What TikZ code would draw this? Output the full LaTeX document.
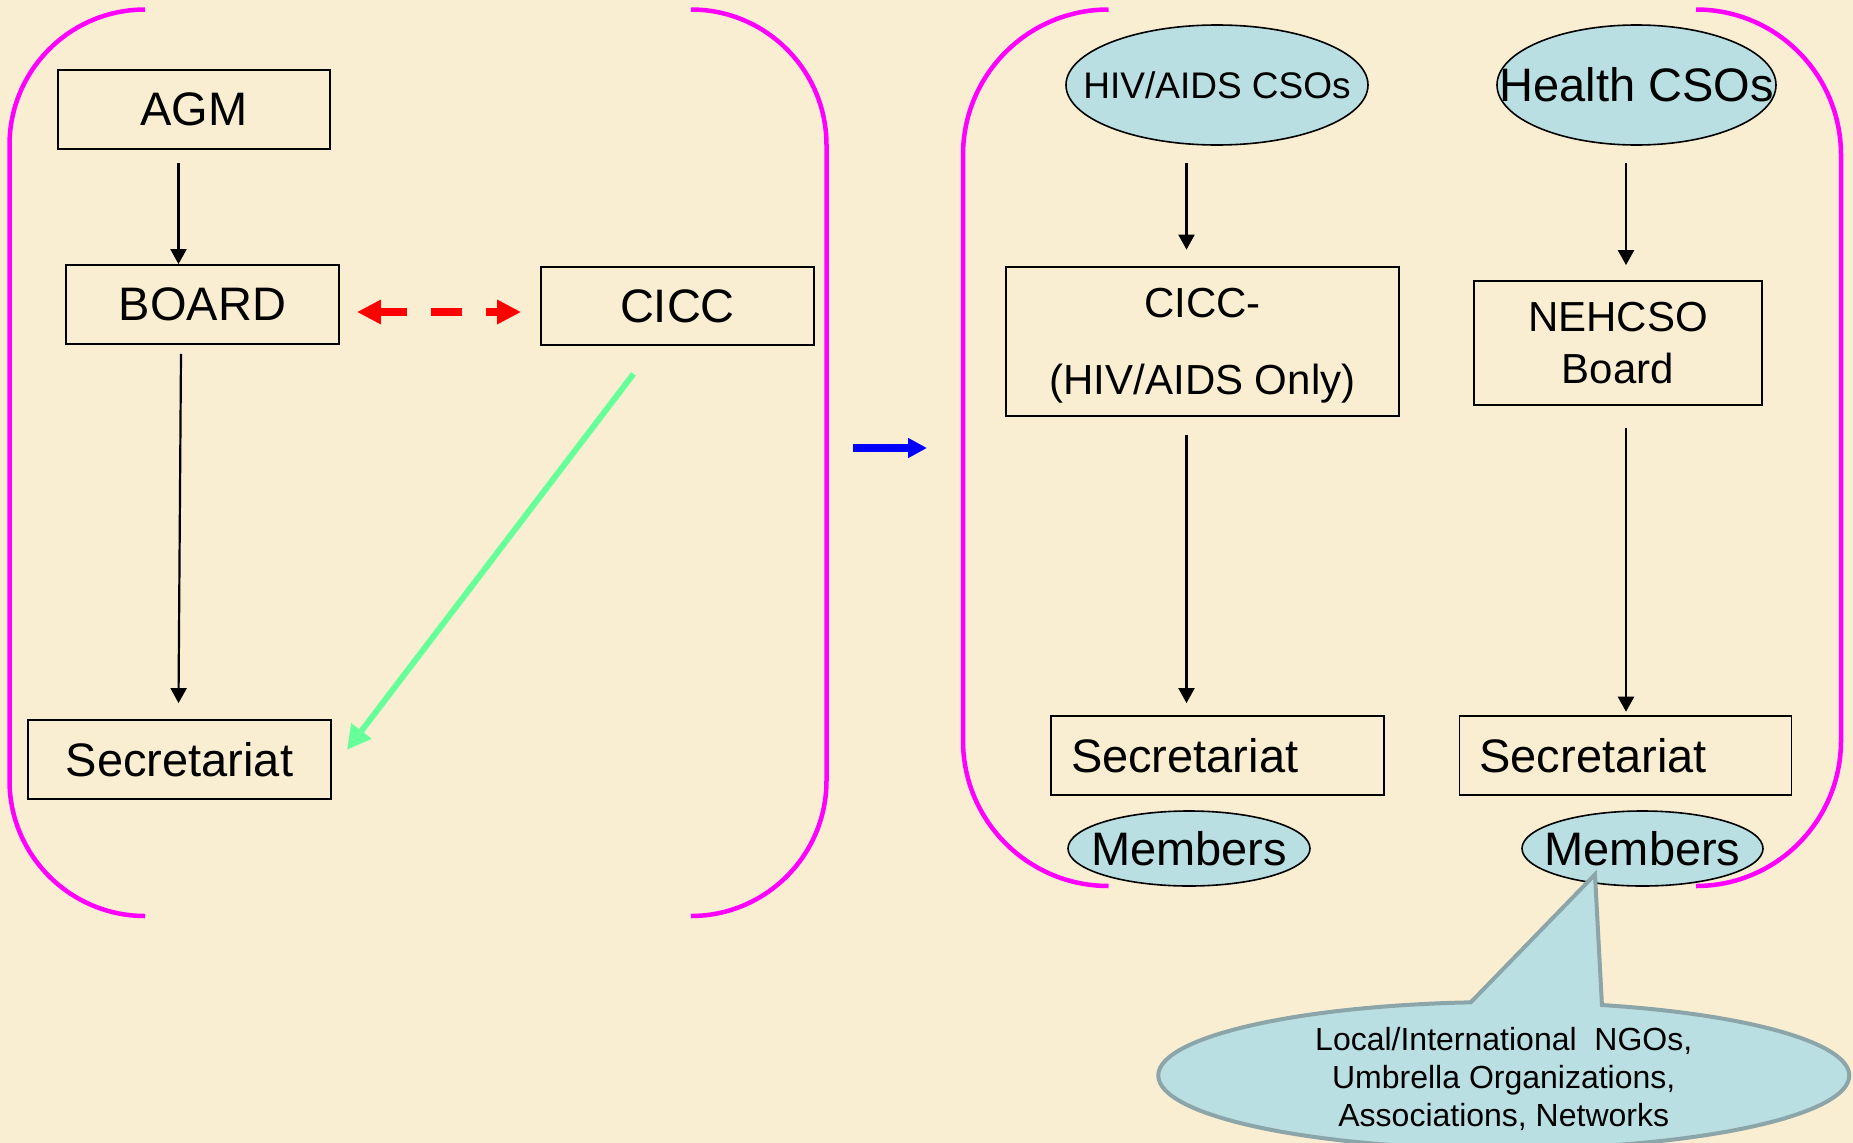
\documentclass[tikz,border=0pt]{standalone}
\usepackage{fontspec}
\setmainfont{Liberation Sans}
\usetikzlibrary{arrows.meta,shapes.geometric,shapes.callouts}
\definecolor{bg}{RGB}{250,238,210}
\definecolor{ellblue}{RGB}{185,223,227}
\definecolor{callborder}{RGB}{139,165,168}
\definecolor{brmag}{RGB}{255,0,255}
\definecolor{grn}{RGB}{102,255,153}
\definecolor{arrblue}{RGB}{0,0,255}
\begin{document}
\begin{tikzpicture}[x=1pt,y=-1pt,
  box/.style={draw=black,line width=1.8pt,inner sep=0pt,align=center},
  ell/.style={ellipse,draw=black,line width=1.6pt,fill=ellblue,inner sep=0pt},
  bracket/.style={draw=brmag,line width=4.5pt},
  arr/.style={draw=black,line width=2.2pt,-{Triangle[length=15pt,width=16pt]}},
  reddash/.style={draw=red,line width=8.5pt,dash pattern=on 28pt off 24pt on 31pt off 24pt,{Triangle[length=24pt,width=23pt]}-{Triangle[length=24pt,width=23pt]}},
  grnarr/.style={draw=grn,line width=6pt,-{Triangle[length=24pt,width=24pt]}},
  bluearr/.style={draw=arrblue,line width=7.5pt,-{Triangle[length=19pt,width=19pt]}},
  big/.style={font=\fontsize{47}{56}\selectfont},
]
\fill[bg] (0,0) rectangle (1853,1143);
\useasboundingbox (0,0) rectangle (1853,1143);

% brackets
\draw[bracket] (145,9.5) .. controls (70.2,9.5) and (9.5,70.2) .. (9.5,145) -- (9.5,780.5) .. controls (9.5,855.3) and (70.2,916) .. (145,916);
\draw[bracket] (691,9.5) .. controls (765.8,9.5) and (826.5,70.2) .. (826.5,145) -- (826.5,780.5) .. controls (826.5,855.3) and (765.8,916) .. (691,916);
\draw[bracket] (1108.5,9.5) .. controls (1028.1,9.5) and (963,74.6) .. (963,155) -- (963,740.5) .. controls (963,820.9) and (1028.1,886) .. (1108.5,886);
\draw[bracket] (1696,9.5) .. controls (1776.4,9.5) and (1841,74.6) .. (1841,155) -- (1841,740.5) .. controls (1841,820.9) and (1776.4,886) .. (1696,886);

% left group
\node[box,big,minimum width=272pt,minimum height=79pt] (agm) at (194,109.5) {AGM};
\node[box,big,minimum width=273pt,minimum height=79pt] (board) at (202.5,304.5) {BOARD};
\node[box,big,minimum width=273pt,minimum height=78pt] (cicc) at (677.5,306) {CICC};
\node[box,big,minimum width=303pt,minimum height=79pt] (sec1) at (179.5,759.5) {Secretariat};

% right group
\node[ell,minimum width=302pt,minimum height=120pt,font=\fontsize{37}{44}\selectfont] (hiv) at (1217,85) {\makebox[0pt]{HIV/AIDS CSOs}};
\node[ell,big,minimum width=279pt,minimum height=120pt] (health) at (1636.5,85) {\makebox[0pt]{Health CSOs}};
\node[box,font=\fontsize{42}{77}\selectfont,minimum width=393pt,minimum height=149pt,text depth=0pt] (cicc2) at (1202.5,341.5) {CICC-\\(HIV/AIDS Only)};
\node[box,font=\fontsize{42}{52}\selectfont,minimum width=288pt,minimum height=124pt] (nehcso) at (1618,343) {NEHCSO\\Board};
\node[box,big,minimum height=79pt,text width=293pt,align=left,inner xsep=20pt] (sec2) at (1217.5,755.5) {Secretariat};
\node[box,big,minimum height=79pt,text width=292pt,align=left,inner xsep=20pt] (sec3) at (1625.5,755.5) {Secretariat};
\node[ell,big,minimum width=242pt,minimum height=75pt] (mem2) at (1189,848.5) {\makebox[0pt]{Members}};
\node[ell,big,minimum width=241pt,minimum height=75pt] (mem3) at (1642.5,848.5) {\makebox[0pt]{Members}};

% callout
\node[ellipse callout,draw=callborder,line width=4pt,fill=ellblue,minimum width=691pt,minimum height=147pt,inner sep=0pt,callout absolute pointer={(1595,874.5)},callout pointer arc=22] (callout) at (1503.75,1075.5) {};
\node[font=\fontsize{32}{38.4}\selectfont,align=center] (calltext) at ([yshift=-3.5pt]callout.center) {Local/International\ \ NGOs,\\Umbrella Organizations,\\Associations, Networks};

% connectors
\draw[arr] ([xshift=-15.5pt,yshift=-13pt]agm.south) -- ([xshift=-24pt]board.north);
\draw[arr] ([xshift=-21.5pt,yshift=-9pt]board.south) -- ([xshift=-1pt,yshift=16pt]sec1.north);
\draw[arr] ([xshift=-30.5pt,yshift=-17pt]hiv.south) -- ([xshift=-16pt,yshift=16.5pt]cicc2.north);
\draw[arr] ([xshift=-16pt,yshift=-17.7pt]cicc2.south) -- ([xshift=-31pt,yshift=12pt]sec2.north);
\draw[arr] ([xshift=-10.5pt,yshift=-17pt]health.south) -- ([xshift=8pt,yshift=15pt]nehcso.north);
\draw[arr] ([xshift=8pt,yshift=-21.6pt]nehcso.south) -- ([xshift=0.5pt,yshift=3.4pt]sec3.north);
\draw[reddash] ([xshift=17pt,yshift=-7.5pt]board.east) -- ([xshift=-19pt,yshift=-6pt]cicc.west);
\draw[grnarr] ([xshift=-44pt,yshift=-28pt]cicc.south) -- ([xshift=15pt,yshift=9.5pt]sec1.east);
\coordinate (b1) at (853,448);
\coordinate (b2) at (927,448);
\draw[bluearr] (b1) -- (b2);
\end{tikzpicture}
\end{document}
